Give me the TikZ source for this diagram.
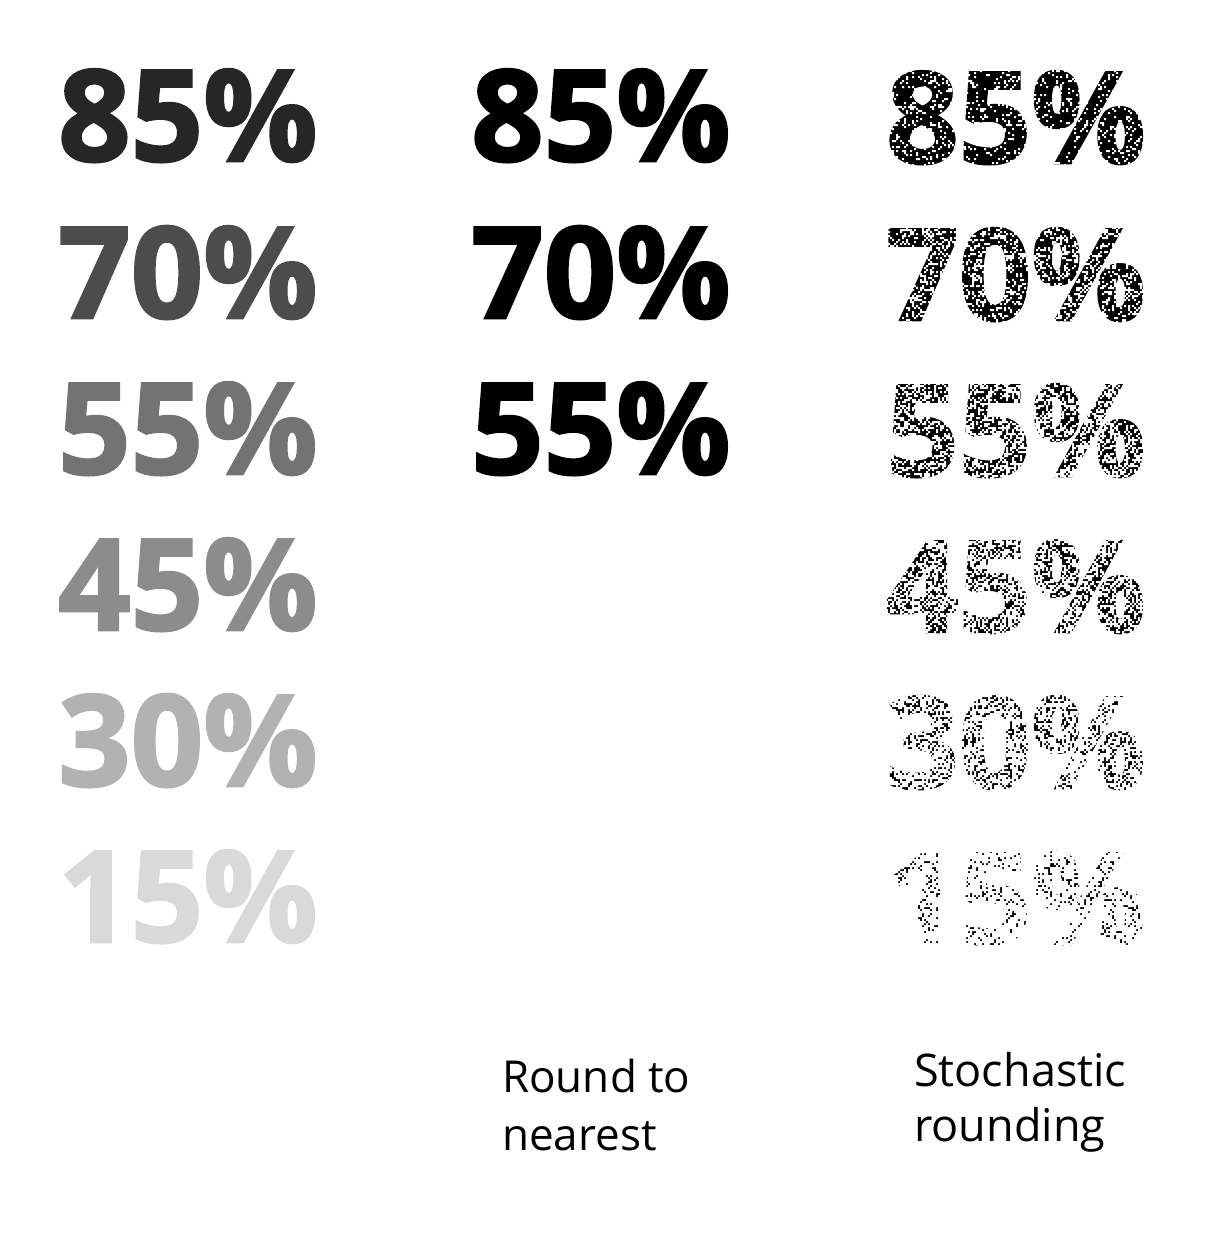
\documentclass[tikz,border=0pt]{standalone}
\usepackage{fontspec}
\setmainfont{Open Sans}
\newfontfamily\heavyfont{Open Sans}[BoldFeatures={FakeBold=2}]
\newcount\stK \newcount\stI \newcount\stJ \newcount\stN
\newdimen\stX \newdimen\stY
% #1 left x, #2 top y (image px, y down), #3 cols, #4 rows, #5 probability a cell stays black
\newcommand\stochmask[5]{%
  \begin{pgfscope}%
  \pgfsetfillcolor{white}%
  \stN=\numexpr#3*#4\relax
  \stK=0
  \loop
    \stJ=\stK \divide\stJ by #3\relax
    \stI=\numexpr\stK-\stJ*#3\relax
    \pgfmathrnd
    \ifdim\pgfmathresult pt>#5pt
      \stX=\dimexpr#1pt+2pt*\stI\relax
      \stY=\dimexpr-#2pt-2pt*\stJ-2pt\relax
      \pgfpathrectangle{\pgfqpoint{\stX}{\stY}}{\pgfqpoint{2pt}{2pt}}%
    \fi
    \advance\stK by 1
  \ifnum\stK<\stN
  \repeat
  \pgfusepath{fill}%
  \end{pgfscope}}
\tikzset{
  bignum/.style={anchor=base west, inner sep=0pt, font=\fontsize{127}{127}\heavyfont\bfseries},
  lab/.style={anchor=base west, inner sep=0pt, font=\fontsize{44}{58}\selectfont},
  labs/.style={anchor=base west, inner sep=0pt, font=\fontsize{45}{58}\selectfont}
}
\begin{document}
\begin{tikzpicture}[x=1pt,y=-1pt]
\useasboundingbox[fill=white] (0,0) rectangle (1208,1254);
\pgfmathsetseed{20231}
% left column: grey levels
\node[bignum, text=black!85] (l85) at (58,161) {85\%};
\node[bignum, text=black!70] (l70) at (58,318) {70\%};
\node[bignum, text=black!55] (l55) at (58,474) {55\%};
\node[bignum, text=black!45] (l45) at (58,630) {45\%};
\node[bignum, text=black!30] (l30) at (58,786) {30\%};
\node[bignum, text=black!15] (l15) at (58,942) {15\%};
% middle column: round to nearest
\node[bignum, text=black] (m85) at (471,161) {85\%};
\node[bignum, text=black] (m70) at (471,318) {70\%};
\node[bignum, text=black] (m55) at (471,474) {55\%};
% right column: stochastic rounding
\node[bignum, text=black] (s85) at (886,163) {85\%};
\node[bignum, text=black] (s70) at (886,320) {70\%};
\node[bignum, text=black] (s55) at (886,476) {55\%};
\node[bignum, text=black] (s45) at (886,632) {45\%};
\node[bignum, text=black] (s30) at (886,788) {30\%};
\node[bignum, text=black] (s15) at (886,944) {15\%};
\stochmask{880}{62}{136}{54}{0.85}
\stochmask{880}{219}{136}{54}{0.70}
\stochmask{880}{375}{136}{54}{0.55}
\stochmask{880}{531}{136}{54}{0.45}
\stochmask{880}{687}{136}{54}{0.30}
\stochmask{880}{843}{136}{54}{0.15}
% labels
\node[lab] (rn1) at (502,1092) {Round to};
\node[lab] (rn2) at (502,1150) {nearest};
\node[labs] (sr1) at (914,1086) {Stochastic};
\node[labs] (sr2) at (914,1141) {rounding};
\end{tikzpicture}
\end{document}
